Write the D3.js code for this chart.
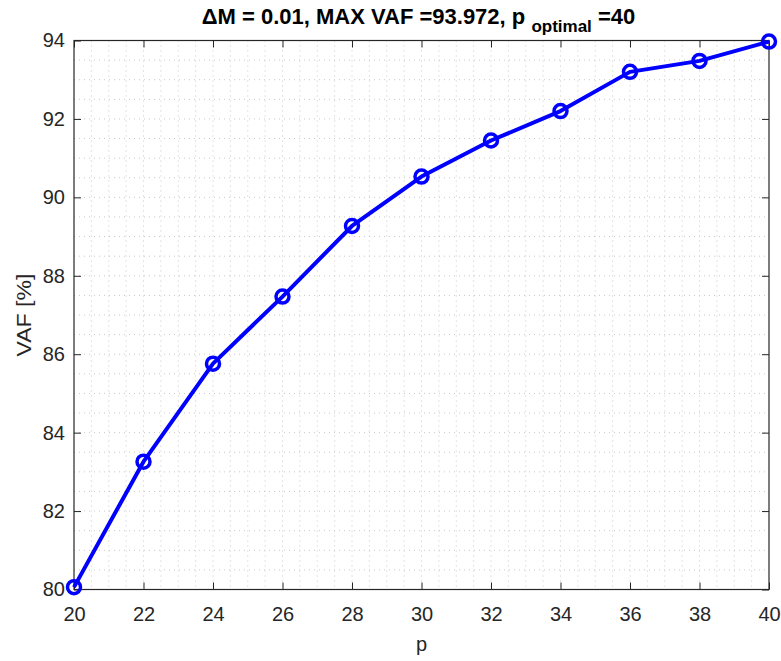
<!DOCTYPE html>
<html>
<head>
<meta charset="utf-8">
<script src="https://cdn.jsdelivr.net/npm/d3@7"></script>
<style>
  body { margin: 0; background: #fff; }
  text { font-family: "Liberation Sans", Arial, Helvetica, sans-serif; }
</style>
</head>
<body>
<svg width="781" height="661"></svg>
<script>
// values
const pValues = [20, 22, 24, 26, 28, 30, 32, 34, 36, 38, 40];
const vafValues = [80.06, 83.26, 85.76, 87.47, 89.27, 90.53, 91.45, 92.2, 93.2, 93.48, 93.972];
const xTicks = [20, 22, 24, 26, 28, 30, 32, 34, 36, 38, 40];
const yTicks = [80, 82, 84, 86, 88, 90, 92, 94];

const svg = d3.select('svg');
const margin = {top: 40.5, right: 12, bottom: 71.5, left: 74};
const width = +svg.attr('width');
const height = +svg.attr('height');
const innerWidth = width - margin.left - margin.right;
const innerHeight = height - margin.top - margin.bottom;

const xScale = d3.scaleLinear().domain([20, 40]).range([0, innerWidth]);
const yScale = d3.scaleLinear().domain([80, 94]).range([innerHeight, 0]);

const g = svg.append('g')
  .attr('transform', `translate(${margin.left},${margin.top})`);

// minor grid every 0.5 (dotted, light)
const xMinor = d3.range(20, 40.001, 0.5);
const yMinor = d3.range(80, 94.001, 0.5);
g.append('g').selectAll('line').data(xMinor.slice(1, -1))
  .enter().append('line')
  .attr('x1', d => xScale(d)).attr('x2', d => xScale(d))
  .attr('y1', 0).attr('y2', innerHeight)
  .attr('stroke', '#c8c8c8').attr('stroke-width', 1)
  .attr('stroke-dasharray', '1,4');
g.append('g').selectAll('line').data(yMinor.slice(1, -1))
  .enter().append('line')
  .attr('y1', d => yScale(d)).attr('y2', d => yScale(d))
  .attr('x1', 0).attr('x2', innerWidth)
  .attr('stroke', '#c8c8c8').attr('stroke-width', 1)
  .attr('stroke-dasharray', '1,4');

// axes with inward ticks
const tickColor = '#262626';
const xAxis = d3.axisBottom(xScale).tickValues(xTicks).tickSize(-7).tickPadding(17);
const yAxis = d3.axisLeft(yScale).tickValues(yTicks).tickSize(-7).tickPadding(9);
const xTop = d3.axisTop(xScale).tickValues(xTicks).tickSize(-7);
const yRight = d3.axisRight(yScale).tickValues(yTicks).tickSize(-7);

const styleAxis = sel => {
  sel.select('.domain').remove();
  sel.selectAll('line').attr('stroke', tickColor).attr('stroke-width', 1);
  sel.selectAll('text').attr('fill', tickColor).attr('font-size', 20);
};

g.append('g').attr('transform', `translate(0,${innerHeight})`).call(xAxis).call(styleAxis);
g.append('g').call(yAxis).call(styleAxis);
g.append('g').call(xTop).call(styleAxis).selectAll('text').remove();
g.append('g').attr('transform', `translate(${innerWidth},0)`).call(yRight).call(styleAxis)
  .selectAll('text').remove();

g.append('rect')
  .attr('x', 0).attr('y', 0)
  .attr('width', innerWidth).attr('height', innerHeight)
  .attr('fill', 'none').attr('stroke', tickColor).attr('stroke-width', 1.2);

// line + markers
const line = d3.line()
  .x((d, i) => xScale(pValues[i]))
  .y(d => yScale(d));

g.append('path')
  .datum(vafValues)
  .attr('d', line)
  .attr('fill', 'none')
  .attr('stroke', '#0000ff')
  .attr('stroke-width', 4)
  .attr('stroke-linejoin', 'round');

g.selectAll('circle').data(vafValues)
  .enter().append('circle')
  .attr('cx', (d, i) => xScale(pValues[i]))
  .attr('cy', d => yScale(d))
  .attr('r', 6.5)
  .attr('fill', 'none')
  .attr('stroke', '#0000ff')
  .attr('stroke-width', 3.5);

// labels
svg.append('text')
  .attr('x', margin.left + innerWidth / 2)
  .attr('y', 651)
  .attr('text-anchor', 'middle')
  .attr('fill', tickColor)
  .attr('font-size', 20)
  .text('p');

svg.append('text')
  .attr('transform', `translate(31,${margin.top + innerHeight / 2}) rotate(-90)`)
  .attr('text-anchor', 'middle')
  .attr('fill', tickColor)
  .attr('font-size', 20)
  .attr('textLength', 83)
  .attr('lengthAdjust', 'spacingAndGlyphs')
  .text('VAF [%]');

const title = svg.append('text')
  .attr('x', margin.left + innerWidth / 2 - 3)
  .attr('y', 24)
  .attr('text-anchor', 'middle')
  .attr('fill', '#000')
  .attr('font-size', 22)
  .attr('font-weight', 'bold');
title.append('tspan').text('ΔM = 0.01, MAX VAF =93.972, p ');
title.append('tspan').attr('font-size', 17).attr('dy', 8).text('optimal');
title.append('tspan').attr('dy', -8).text(' =40');
</script>
</body>
</html>
